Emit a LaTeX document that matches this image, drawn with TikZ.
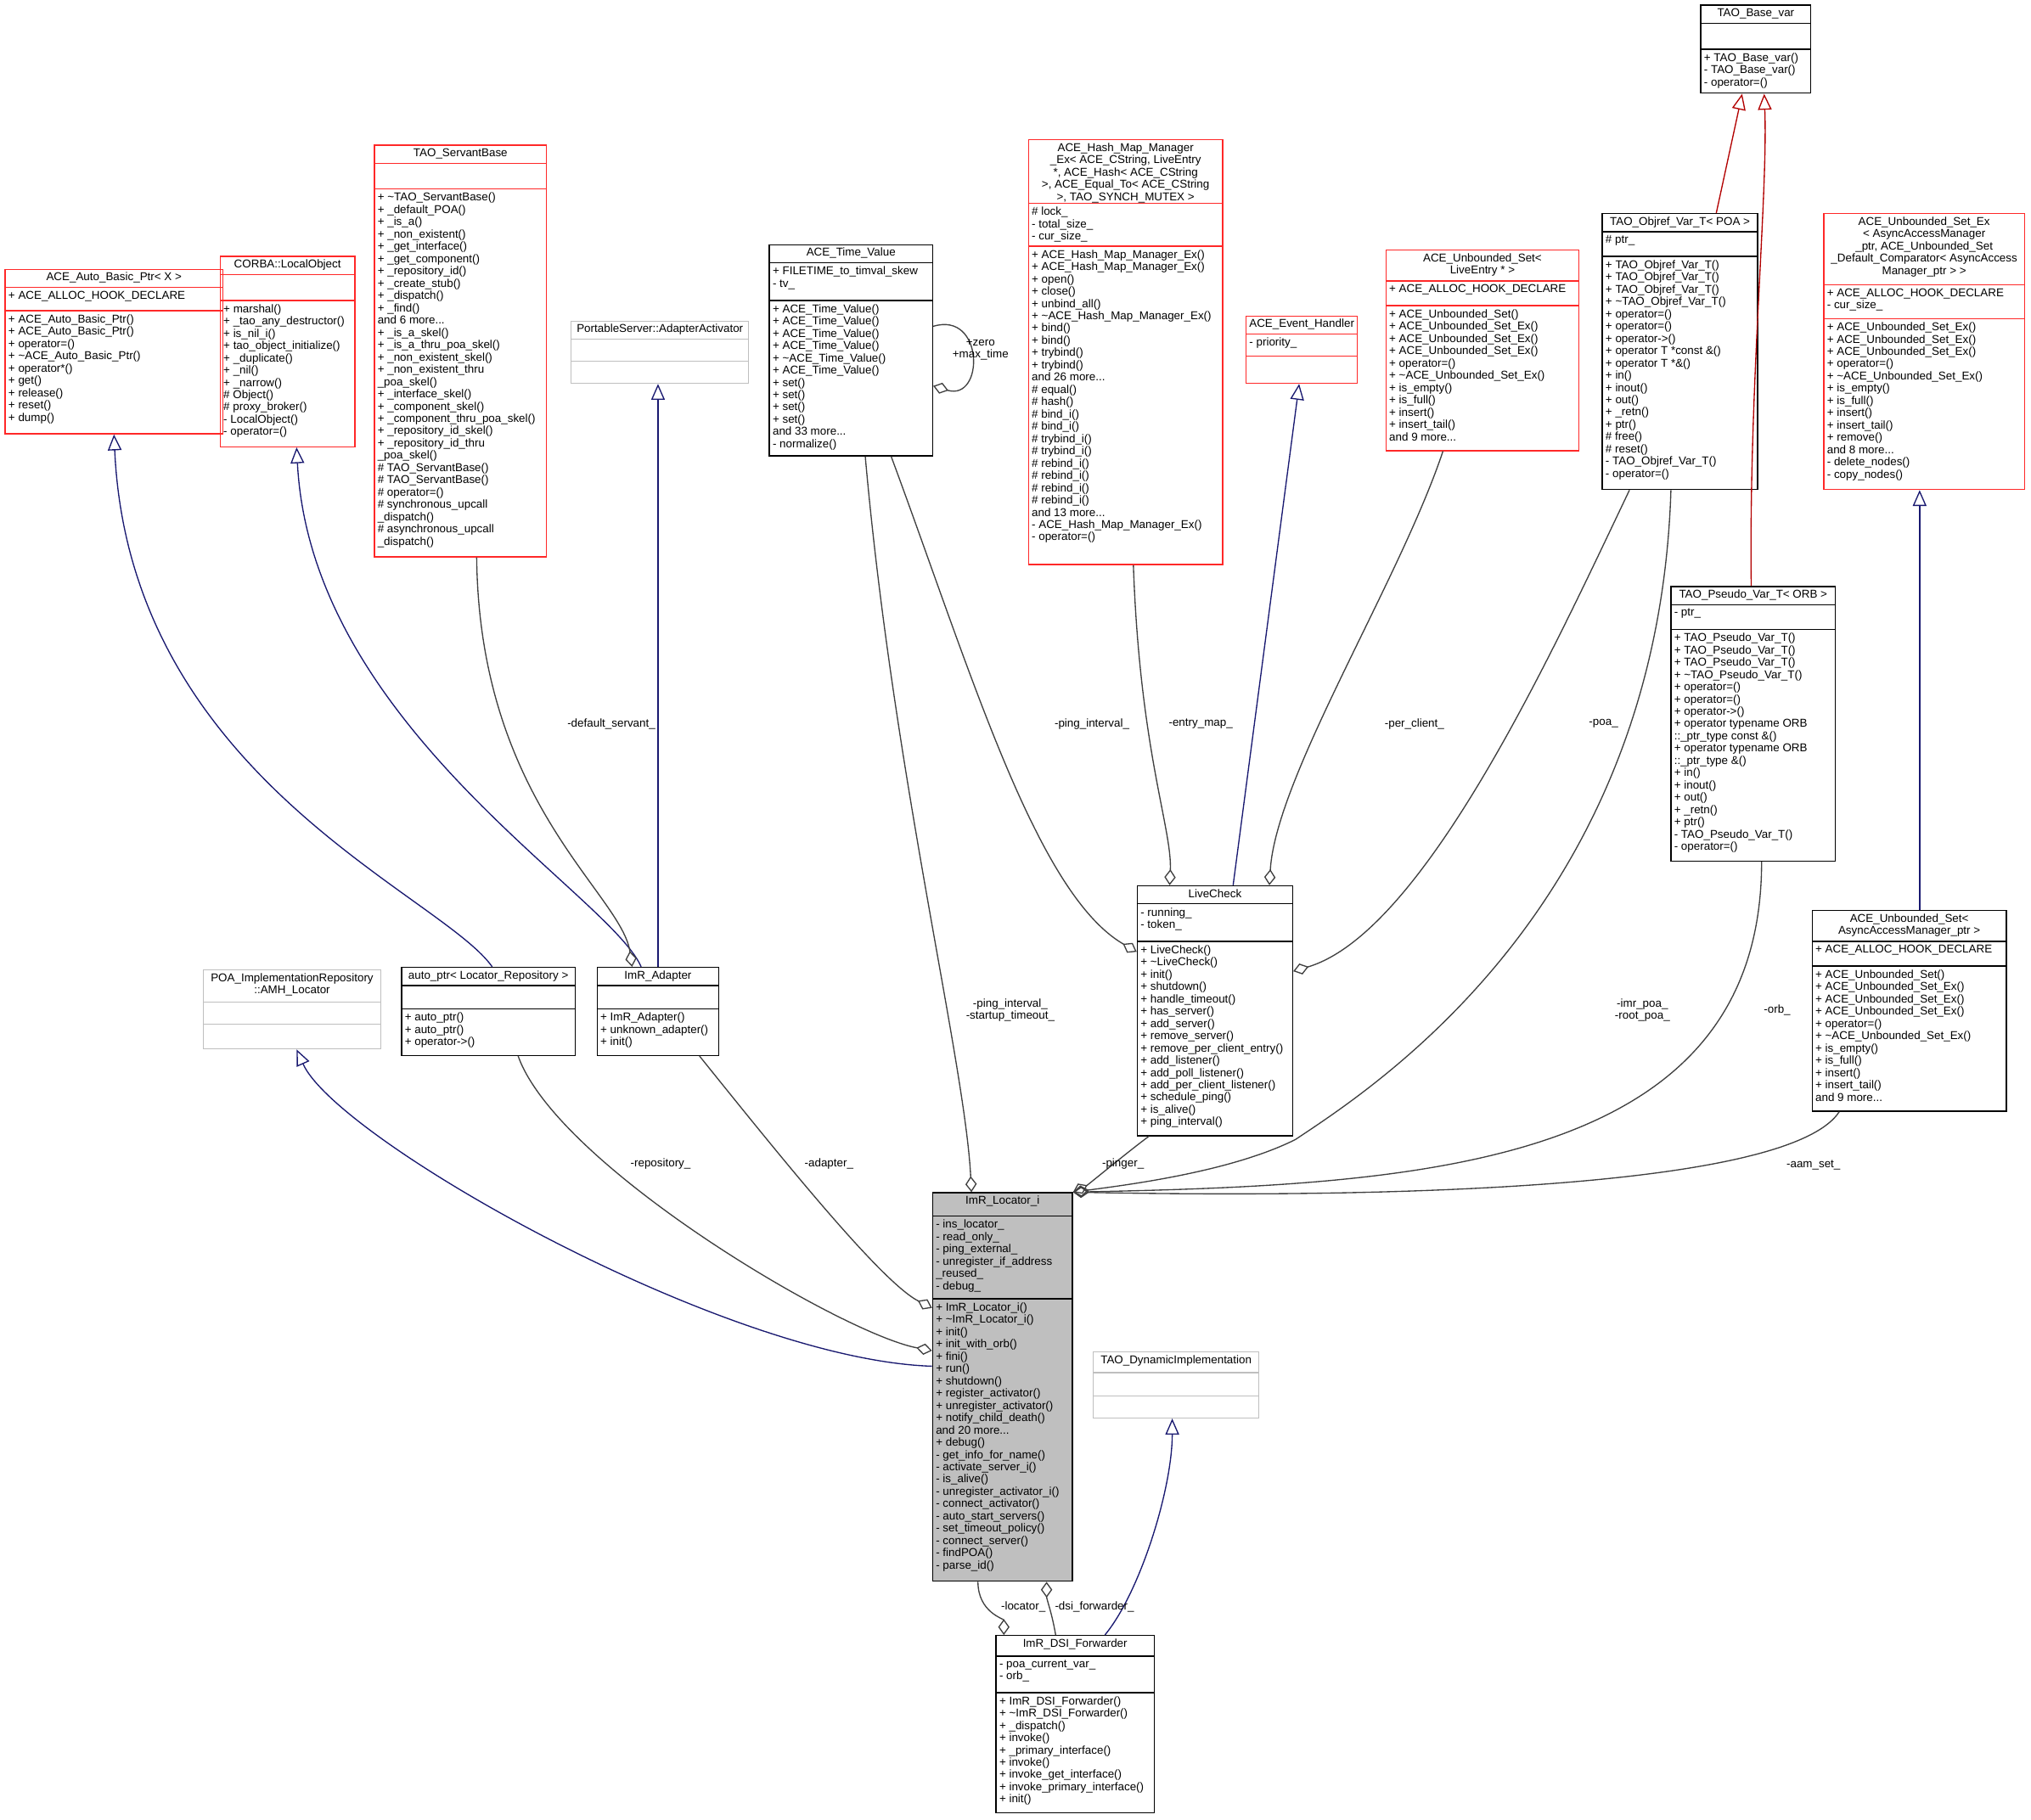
\documentclass[tikz,border=0pt]{standalone}
\usepackage{fontspec}
\setmainfont{Liberation Sans}
\usetikzlibrary{positioning,arrows.meta,fit,calc}

\definecolor{navyline}{RGB}{25,25,112}
\definecolor{compline}{RGB}{64,64,64}
\definecolor{redbox}{RGB}{255,40,40}

\tikzset{
  cls/.style={draw=black, line width=0.5pt},
  redcls/.style={draw=redbox, line width=0.5pt},
  graycls/.style={draw=gray!50, line width=0.5pt},
  hicls/.style={draw=black, fill=gray!50, line width=0.5pt},
  comp/.style={draw=compline, line width=0.5pt, -{Diamond[open, length=7pt, width=5pt]}},
  inh/.style={draw=navyline, line width=0.5pt, -{Triangle[open, length=7pt, width=6pt]}},
  redinh/.style={draw=red!70!black, line width=0.5pt, -{Triangle[open, length=7pt, width=6pt]}},
  lbl/.style={align=center, inner sep=0.5pt, font=\fontsize{5}{5.5}\selectfont}
}

% class box: name, NW corner, SE corner, y of first rule, y of second rule, style, title, attributes, methods
\newcommand\umlclass[9]{
  \node[fit={#2 #3}, inner sep=0pt, #6] (#1) {};
  \draw[#6] (#1.west |- 0,#4) -- (#1.east |- 0,#4);
  \draw[#6] (#1.west |- 0,#5) -- (#1.east |- 0,#5);
  \node[anchor=north, align=center, inner sep=1.5pt] at (#1.north) {#7};
  \node[anchor=north west, align=left, inner sep=1.5pt] at (#1.west |- 0,#4) {#8};
  \node[anchor=north west, align=left, inner sep=1.5pt] at (#1.west |- 0,#5) {#9};
}

\begin{document}
\catcode`\_=12
\begin{tikzpicture}[x=0.02cm, y=-0.02cm, font=\fontsize{5}{5.4}\selectfont]
        \useasboundingbox (0,0) rectangle (1568,1405);

        % Base classes at the top
        \umlclass{basevar}{(1313,4)}{(1398,72)}{18}{38}{cls}{TAO_Base_var}{}
          {+ TAO_Base_var()\\- TAO_Base_var()\\- operator=()}

        \umlclass{autobasic}{(4,208)}{(172,335)}{222}{240}{redcls}{ACE_Auto_Basic_Ptr< X >}
          {+ ACE_ALLOC_HOOK_DECLARE}
          {+ ACE_Auto_Basic_Ptr()\\+ ACE_Auto_Basic_Ptr()\\+ operator=()\\+ \textasciitilde ACE_Auto_Basic_Ptr()\\+ operator*()\\+ get()\\+ release()\\+ reset()\\+ dump()}

        \umlclass{localobj}{(170,198)}{(274,345)}{212}{232}{redcls}{CORBA::LocalObject}{}
          {+ marshal()\\+ _tao_any_destructor()\\+ is_nil_i()\\+ tao_object_initialize()\\+ _duplicate()\\+ _nil()\\+ _narrow()\\\# Object()\\\# proxy_broker()\\- LocalObject()\\- operator=()}

        \umlclass{servant}{(289,112)}{(422,430)}{126}{146}{redcls}{TAO_ServantBase}{}
          {+ \textasciitilde TAO_ServantBase()\\+ _default_POA()\\+ _is_a()\\+ _non_existent()\\+ _get_interface()\\+ _get_component()\\+ _repository_id()\\+ _create_stub()\\+ _dispatch()\\+ _find()\\and 6 more...\\+ _is_a_skel()\\+ _is_a_thru_poa_skel()\\+ _non_existent_skel()\\+ _non_existent_thru\\ _poa_skel()\\+ _interface_skel()\\+ _component_skel()\\+ _component_thru_poa_skel()\\+ _repository_id_skel()\\+ _repository_id_thru\\ _poa_skel()\\\# TAO_ServantBase()\\\# TAO_ServantBase()\\\# operator=()\\\# synchronous_upcall\\ _dispatch()\\\# asynchronous_upcall\\ _dispatch()}

        \umlclass{activator}{(441,248)}{(578,296)}{262}{279}{graycls}{PortableServer::AdapterActivator}{}{}

        \umlclass{timevalue}{(594,189)}{(720,352)}{203}{232}{cls}{ACE_Time_Value}
          {+ FILETIME_to_timval_skew\\- tv_}
          {+ ACE_Time_Value()\\+ ACE_Time_Value()\\+ ACE_Time_Value()\\+ ACE_Time_Value()\\+ \textasciitilde ACE_Time_Value()\\+ ACE_Time_Value()\\+ set()\\+ set()\\+ set()\\+ set()\\and 33 more...\\- normalize()}

        \umlclass{hashmap}{(794,108)}{(944,436)}{157}{190}{redcls}
          {ACE_Hash_Map_Manager\\_Ex< ACE_CString, LiveEntry\\ *, ACE_Hash< ACE_CString\\ >, ACE_Equal_To< ACE_CString\\ >, TAO_SYNCH_MUTEX >}
          {\# lock_\\- total_size_\\- cur_size_}
          {+ ACE_Hash_Map_Manager_Ex()\\+ ACE_Hash_Map_Manager_Ex()\\+ open()\\+ close()\\+ unbind_all()\\+ \textasciitilde ACE_Hash_Map_Manager_Ex()\\+ bind()\\+ bind()\\+ trybind()\\+ trybind()\\and 26 more...\\\# equal()\\\# hash()\\\# bind_i()\\\# bind_i()\\\# trybind_i()\\\# trybind_i()\\\# rebind_i()\\\# rebind_i()\\\# rebind_i()\\\# rebind_i()\\and 13 more...\\- ACE_Hash_Map_Manager_Ex()\\- operator=()}

        \umlclass{eventh}{(962,244)}{(1048,296)}{258}{275}{redcls}{ACE_Event_Handler}{- priority_}{}

        \umlclass{uslive}{(1070,193)}{(1219,348)}{217}{236}{redcls}{ACE_Unbounded_Set<\\ LiveEntry * >}
          {+ ACE_ALLOC_HOOK_DECLARE}
          {+ ACE_Unbounded_Set()\\+ ACE_Unbounded_Set_Ex()\\+ ACE_Unbounded_Set_Ex()\\+ ACE_Unbounded_Set_Ex()\\+ operator=()\\+ \textasciitilde ACE_Unbounded_Set_Ex()\\+ is_empty()\\+ is_full()\\+ insert()\\+ insert_tail()\\and 9 more...}

        \umlclass{objref}{(1237,165)}{(1357,378)}{179}{198}{cls}{TAO_Objref_Var_T< POA >}
          {\# ptr_}
          {+ TAO_Objref_Var_T()\\+ TAO_Objref_Var_T()\\+ TAO_Objref_Var_T()\\+ \textasciitilde TAO_Objref_Var_T()\\+ operator=()\\+ operator=()\\+ operator->()\\+ operator T *const \&()\\+ operator T *\&()\\+ in()\\+ inout()\\+ out()\\+ _retn()\\+ ptr()\\\# free()\\\# reset()\\- TAO_Objref_Var_T()\\- operator=()}

        \umlclass{usex}{(1408,165)}{(1563,378)}{220}{246}{redcls}
          {ACE_Unbounded_Set_Ex\\< AsyncAccessManager\\_ptr, ACE_Unbounded_Set\\_Default_Comparator< AsyncAccess\\Manager_ptr > >}
          {+ ACE_ALLOC_HOOK_DECLARE\\- cur_size_}
          {+ ACE_Unbounded_Set_Ex()\\+ ACE_Unbounded_Set_Ex()\\+ ACE_Unbounded_Set_Ex()\\+ operator=()\\+ \textasciitilde ACE_Unbounded_Set_Ex()\\+ is_empty()\\+ is_full()\\+ insert()\\+ insert_tail()\\+ remove()\\and 8 more...\\- delete_nodes()\\- copy_nodes()}

        \umlclass{pseudo}{(1290,453)}{(1417,665)}{467}{486}{cls}{TAO_Pseudo_Var_T< ORB >}
          {- ptr_}
          {+ TAO_Pseudo_Var_T()\\+ TAO_Pseudo_Var_T()\\+ TAO_Pseudo_Var_T()\\+ \textasciitilde TAO_Pseudo_Var_T()\\+ operator=()\\+ operator=()\\+ operator->()\\+ operator typename ORB\\::_ptr_type const \&()\\+ operator typename ORB\\::_ptr_type \&()\\+ in()\\+ inout()\\+ out()\\+ _retn()\\+ ptr()\\- TAO_Pseudo_Var_T()\\- operator=()}

        \umlclass{asyncset}{(1399,703)}{(1549,858)}{727}{746}{cls}{ACE_Unbounded_Set<\\ AsyncAccessManager_ptr >}
          {+ ACE_ALLOC_HOOK_DECLARE}
          {+ ACE_Unbounded_Set()\\+ ACE_Unbounded_Set_Ex()\\+ ACE_Unbounded_Set_Ex()\\+ ACE_Unbounded_Set_Ex()\\+ operator=()\\+ \textasciitilde ACE_Unbounded_Set_Ex()\\+ is_empty()\\+ is_full()\\+ insert()\\+ insert_tail()\\and 9 more...}

        % Middle row
        \umlclass{livecheck}{(878,684)}{(998,877)}{698}{727}{cls}{LiveCheck}
          {- running_\\- token_}
          {+ LiveCheck()\\+ \textasciitilde LiveCheck()\\+ init()\\+ shutdown()\\+ handle_timeout()\\+ has_server()\\+ add_server()\\+ remove_server()\\+ remove_per_client_entry()\\+ add_listener()\\+ add_poll_listener()\\+ add_per_client_listener()\\+ schedule_ping()\\+ is_alive()\\+ ping_interval()}

        \umlclass{amh}{(157,749)}{(294,810)}{774}{791}{graycls}{POA_ImplementationRepository\\::AMH_Locator}{}{}

        \umlclass{autoptr}{(310,747)}{(444,815)}{761}{779}{cls}{auto_ptr< Locator_Repository >}{}
          {+ auto_ptr()\\+ auto_ptr()\\+ operator->()}

        \umlclass{adapter}{(461,747)}{(555,815)}{761}{779}{cls}{ImR_Adapter}{}
          {+ ImR_Adapter()\\+ unknown_adapter()\\+ init()}

        \umlclass{dynimpl}{(844,1044)}{(972,1095)}{1060}{1078}{graycls}{TAO_DynamicImplementation}{}{}

        % Central class
        \umlclass{locator}{(720,921)}{(828,1221)}{939}{1003}{hicls}{ImR_Locator_i}
          {- ins_locator_\\- read_only_\\- ping_external_\\- unregister_if_address\\_reused_\\- debug_}
          {+ ImR_Locator_i()\\+ \textasciitilde ImR_Locator_i()\\+ init()\\+ init_with_orb()\\+ fini()\\+ run()\\+ shutdown()\\+ register_activator()\\+ unregister_activator()\\+ notify_child_death()\\and 20 more...\\+ debug()\\- get_info_for_name()\\- activate_server_i()\\- is_alive()\\- unregister_activator_i()\\- connect_activator()\\- auto_start_servers()\\- set_timeout_policy()\\- connect_server()\\- findPOA()\\- parse_id()}

        \umlclass{dsi}{(769,1263)}{(891,1400)}{1279}{1307}{cls}{ImR_DSI_Forwarder}
          {- poa_current_var_\\- orb_}
          {+ ImR_DSI_Forwarder()\\+ \textasciitilde ImR_DSI_Forwarder()\\+ _dispatch()\\+ invoke()\\+ _primary_interface()\\+ invoke()\\+ invoke_get_interface()\\+ invoke_primary_interface()\\+ init()}

        % Inheritance
        \draw[inh] (locator.west |- 0,1055) .. controls (560,1050) and (260,880) .. (amh.south -| 229,0);
        \draw[inh] (autoptr.north -| 380,0) .. controls (340,690) and (100,600) .. (autobasic.south -| 88,0);
        \draw[inh] (adapter.north -| 495,0) .. controls (470,690) and (240,560) .. (localobj.south -| 229,0);
        \draw[inh] (adapter.north -| 508,0) -- (activator.south -| 508,0);
        \draw[inh] (livecheck.north -| 952,0) -- (eventh.south -| 1003,0);
        \draw[inh] (asyncset.north -| 1482,0) -- (usex.south -| 1482,0);
        \draw[inh] (dsi.north -| 853,0) .. controls (880,1230) and (905,1150) .. (dynimpl.south -| 905,0);
        \draw[redinh] (objref.north -| 1325,0) -- (basevar.south -| 1345,0);
        \draw[redinh] (pseudo.north -| 1352,0) .. controls (1350,300) and (1365,150) .. (basevar.south -| 1362,0);

        % Members
        \draw[comp] (autoptr.south -| 400,0) .. controls (430,900) and (650,1030) .. (locator.west |- 0,1043);
        \draw[comp] (adapter.south -| 540,0) .. controls (600,890) and (680,990) .. (locator.west |- 0,1010);
        \draw[comp] (servant.south -| 368,0) .. controls (370,620) and (480,690) .. (adapter.north -| 488,0);
        \draw[comp] (timevalue.south -| 668,0) .. controls (690,600) and (745,820) .. (locator.north -| 750,0);
        \draw[comp] (timevalue.east |- 0,252) .. controls (760,240) and (760,310) .. (timevalue.east |- 0,298);
        \draw[comp] (timevalue.south -| 688,0) .. controls (750,520) and (800,690) .. (livecheck.west |- 0,735);
        \draw[comp] (hashmap.south -| 875,0) .. controls (880,580) and (905,640) .. (livecheck.north -| 903,0);
        \draw[comp] (uslive.south -| 1114,0) .. controls (1080,450) and (985,600) .. (livecheck.north -| 980,0);
        \draw[comp] (objref.south -| 1258,0) .. controls (1200,500) and (1100,720) .. (livecheck.east |- 0,750);
        \draw[comp] (objref.south -| 1290,0) .. controls (1280,700) and (1060,840) .. (1000,880)
                    .. controls (950,905) and (870,915) .. (locator.north east);
        \draw[comp] (pseudo.south -| 1360,0) .. controls (1360,900) and (1100,915) .. (locator.north east);
        \draw[comp] (asyncset.south -| 1420,0) .. controls (1380,920) and (1050,925) .. (locator.north east);
        \draw[comp] (livecheck.south -| 887,0) .. controls (870,890) and (840,915) .. (locator.north east);
        \draw[comp] (locator.south -| 755,0) .. controls (755,1245) and (775,1250) .. (dsi.north -| 775,0);
        \draw[comp] (dsi.north -| 815,0) .. controls (812,1245) and (808,1235) .. (locator.south -| 808,0);

        % Member names
        \node[lbl] (lrepo) at (510,899) {-repository_};
        \node[lbl] (ladapt) at (640,899) {-adapter_};
        \node[lbl] (lserv) at (472,559) {-default_servant_};
        \node[lbl] (ltime) at (780,780) {-ping_interval_\\-startup_timeout_};
        \node[lbl] (lself) at (757,270) {+zero\\+max_time};
        \node[lbl] (lping) at (843,559) {-ping_interval_};
        \node[lbl] (lentry) at (927,559) {-entry_map_};
        \node[lbl] (lclient) at (1092,559) {-per_client_};
        \node[lbl] (lpoa) at (1238,559) {-poa_};
        \node[lbl] (limr) at (1268,780) {-imr_poa_\\-root_poa_};
        \node[lbl] (lorb) at (1372,780) {-orb_};
        \node[lbl] (laam) at (1400,900) {-aam_set_};
        \node[lbl] (lpinger) at (867,899) {-pinger_};
        \node[lbl] (lloc) at (790,1241) {-locator_};
        \node[lbl] (ldsi) at (845,1241) {-dsi_forwarder_};
    \end{tikzpicture}
\end{document}
